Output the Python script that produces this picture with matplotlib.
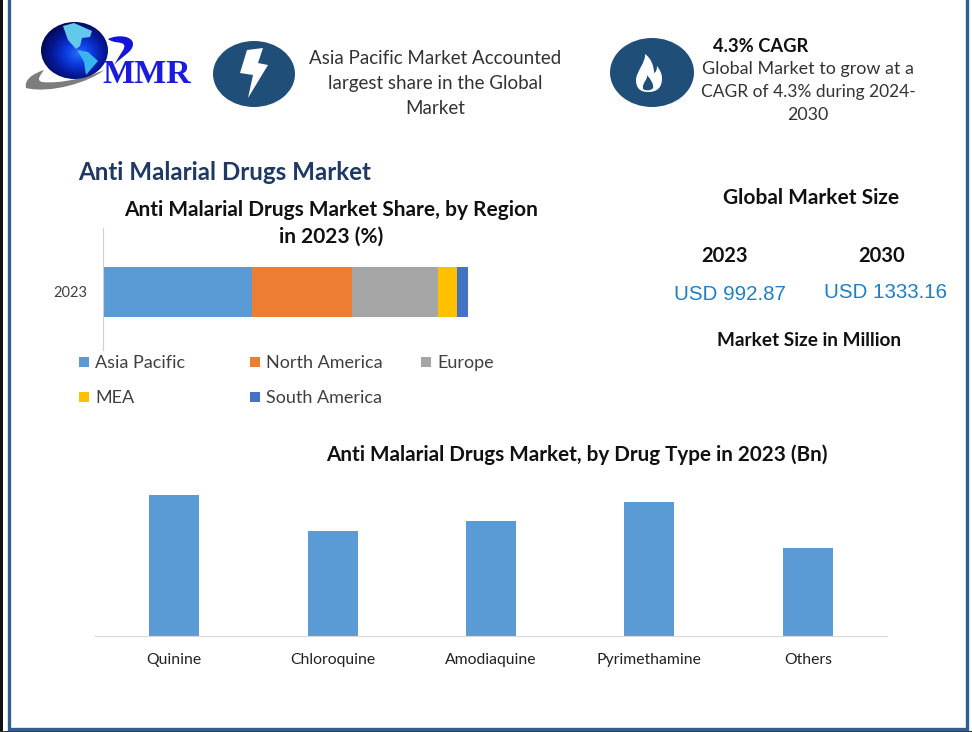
import numpy as np
import matplotlib
matplotlib.use("Agg")
import matplotlib.pyplot as plt
from matplotlib.colors import LinearSegmentedColormap
from matplotlib.patches import Ellipse, Polygon, PathPatch, Rectangle
from matplotlib.path import Path

plt.rcParams['font.family'] = ['Lato', 'DejaVu Sans']

# region share, % of 2023
regions = ['Asia Pacific', 'North America', 'Europe', 'MEA', 'South America']
region_share = [40.8, 27.4, 23.6, 5.2, 3.0]
region_colors = ['#5B9BD5', '#ED7D31', '#A5A5A5', '#FFC000', '#4472C4']

# drug type, no axis on the original so values are relative
drug_types = ['Quinine', 'Chloroquine', 'Amodiaquine', 'Pyrimethamine', 'Others']
drug_values = [141, 105, 115, 134, 88]

W, H = 972, 732
fig = plt.figure(figsize=(W / 100, H / 100), dpi=100, facecolor='white')

# full figure layer in pixel coords for frame, logo, icons, text
bg = fig.add_axes([0, 0, 1, 1])
bg.axis('off')


def axes_rect(x0, y0, x1, y1):
    return [x0 / W, 1 - y1 / H, (x1 - x0) / W, (y1 - y0) / H]


def blob(points, color, z=3):
    # closed smooth shape, points are control points of cubic segments
    codes = [Path.MOVETO] + [Path.CURVE4] * (len(points) - 1)
    bg.add_patch(PathPatch(Path(points, codes), fc=color, ec='none', zorder=z))


# logo
blob([(26, 88), (24, 80), (32, 74), (44, 70), (40, 76), (36, 80), (42, 82),
      (60, 84), (85, 78), (104, 70), (90, 82), (50, 94), (26, 88)], '#7D7D7D', 1)
grad_x, grad_y = np.meshgrid(np.linspace(-1, 1, 160), np.linspace(-1, 1, 160))
grad = np.hypot(grad_x - 0.1, grad_y - 0.1)
globe_cmap = LinearSegmentedColormap.from_list('globe', ['#2A6CF5', '#0B3BE0', '#06189A', '#020A50'])
globe = bg.imshow(grad, extent=(41, 108, 79, 22), cmap=globe_cmap, vmin=0, vmax=1.15, aspect='auto', zorder=2)
globe.set_clip_path(Ellipse((74.5, 50.5), 67, 57, transform=bg.transData))
bg.add_patch(Polygon([(63, 26), (74, 23), (92, 31), (90, 37), (82, 38), (80, 46), (76, 49), (68, 40)],
                     fc='#63C9EA', ec='none', zorder=3))
bg.add_patch(Polygon([(77, 50), (88, 52), (98, 61), (92, 68), (86, 75), (84, 62)],
                     fc='#38B4EE', ec='none', zorder=3))
blob([(108, 39), (118, 34), (133, 36), (133, 44), (133, 52), (122, 56), (114, 65),
      (120, 54), (126, 48), (124, 45), (122, 41), (114, 44), (108, 39)], '#1414D8', 3)
bg.text(102, 83, 'MMR', family='Liberation Serif', weight='bold', fontsize=24.5, color='#1A1AE0',
        ha='left', va='baseline', zorder=4)

# icons
icon_blue = '#1F4E79'
bg.add_patch(Ellipse((254, 74), 82, 66, fc=icon_blue, ec='none'))
bg.add_patch(Polygon([(247, 50), (263, 48), (258, 63), (268, 65), (248, 98), (253, 75), (240, 73)],
                     fc='white', ec='none'))
bg.add_patch(Ellipse((652, 72.5), 84, 69, fc=icon_blue, ec='none'))
blob([(645, 54), (646, 62), (636, 72), (636, 80), (636, 88), (640, 92), (648, 92),
      (657, 92), (662, 88), (662, 78), (662, 74), (660, 70), (657, 66), (657, 70), (656, 72), (654, 73),
      (654, 66), (651, 58), (645, 54)], 'white', 3)
blob([(647, 75), (648, 80), (642, 82), (643, 89), (646, 91), (651, 91), (653, 88),
      (654, 84), (651, 80), (647, 75)], icon_blue, 4)

# header text
body = '#333333'
head_lines = ['Asia Pacific Market Accounted', 'largest share in the Global', 'Market']
for y, s in zip([58, 83, 108], head_lines):
    bg.text(435, y, s, fontsize=13.5, color=body, ha='center', va='center')
bg.text(761, 46, '4.3% CAGR', fontsize=13.2, weight='bold', color='#111111', ha='center', va='center')
cagr_lines = ['Global Market to grow at a', 'CAGR of 4.3% during 2024-', '2030']
for y, s, fs in zip([69, 92, 115], cagr_lines, [12.9, 12.5, 12.9]):
    bg.text(808, y, s, fontsize=fs, color=body, ha='center', va='center')

bg.text(78, 173, 'Anti Malarial Drugs Market', fontsize=17.4, weight='bold', color='#1F3864', ha='left', va='center')
bg.text(331, 210, 'Anti Malarial Drugs Market Share, by Region', fontsize=15, weight='bold', color='#111111',
        ha='center', va='center')
bg.text(331, 237, 'in 2023 (%)', fontsize=15, weight='bold', color='#111111', ha='center', va='center')
bg.text(577, 455, 'Anti Malarial Drugs Market, by Drug Type in 2023 (Bn)', fontsize=14.9, weight='bold',
        color='#111111', ha='center', va='center')

# market size block
bg.text(811, 198.5, 'Global Market Size', fontsize=15, weight='bold', color='#111111', ha='center', va='center')
bg.text(724.5, 256.5, '2023', fontsize=14.5, weight='bold', color='#111111', ha='center', va='center')
bg.text(882, 255.5, '2030', fontsize=14.5, weight='bold', color='#111111', ha='center', va='center')
usd_blue = '#1F7FC4'
bg.text(730, 295, 'USD 992.87', fontsize=14.8, family='Liberation Sans', color=usd_blue, ha='center', va='center')
bg.text(885, 292, 'USD 1333.16', fontsize=14.8, family='Liberation Sans', color=usd_blue, ha='center', va='center')
bg.text(809, 341, 'Market Size in Million', fontsize=13.7, weight='bold', color='#111111', ha='center', va='center')

# legend placed by hand, two rows with uneven columns
legend_pos = [(79, 362), (250, 362), (421, 362), (79, 397), (250, 397)]
for (lx, ly), name, col in zip(legend_pos, regions, region_colors):
    bg.add_patch(Rectangle((lx, ly - 5), 10, 10, fc=col, ec='none'))
    bg.text(lx + 16, ly + 1, name, fontsize=13, color='#404040', ha='left', va='center')

# frame
bg.add_patch(Rectangle((0, 0), 3, H, fc='#111111', ec='none'))
bg.plot([8.5, 8.5, 967, 967], [0, 728.5, 728.5, 0], color='#2F5F8F', lw=2.4, solid_joinstyle='miter')
bg.add_patch(Rectangle((0, 731), W, 1, fc='#333333', ec='none'))

bg.set_xlim(0, W)
bg.set_ylim(H, 0)

# stacked bar, region share
ax1 = fig.add_axes(axes_rect(102.5, 228, 468, 350))
ax1.patch.set_alpha(0)
left = 0
for name, val, col in zip(regions, region_share, region_colors):
    ax1.barh([0], [val], left=left, height=0.41, color=col, label=name)
    left += val
ax1.set_xlim(0, 100)
ax1.set_ylim(0.475, -0.525)
ax1.set_yticks([-0.008])
ax1.set_yticklabels(['2023'], fontsize=10.5, color='#404040')
ax1.tick_params(axis='y', length=0, pad=11)
ax1.set_xticks([])
for s in ['top', 'right', 'bottom']:
    ax1.spines[s].set_visible(False)
ax1.spines['left'].set_color('#D0D0D0')

# column chart, drug type
ax2 = fig.add_axes(axes_rect(95, 480, 887, 636))
ax2.patch.set_alpha(0)
ax2.bar(range(len(drug_types)), drug_values, width=0.316, color='#5B9BD5')
ax2.set_xlim(-0.5, 4.5)
ax2.set_ylim(0, 156)
ax2.set_yticks([])
ax2.set_xticks(range(len(drug_types)))
ax2.set_xticklabels(drug_types, fontsize=11.3, color='#222222')
ax2.tick_params(axis='x', length=0, pad=12)
for s in ['top', 'right', 'left']:
    ax2.spines[s].set_visible(False)
ax2.spines['bottom'].set_color('#D9D9D9')

fig.savefig('out.png', dpi=100)
